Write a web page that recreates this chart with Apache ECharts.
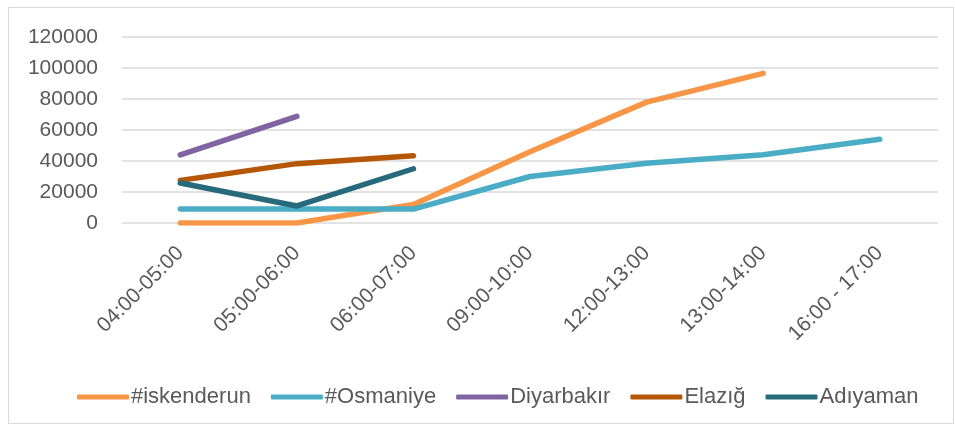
<!DOCTYPE html>
<html>
<head>
<meta charset="utf-8">
<script src="https://cdn.jsdelivr.net/npm/echarts@6/dist/echarts.min.js"></script>
<style>
  html, body { margin: 0; padding: 0; background: #fff; }
  #main { width: 955px; height: 427px; }
</style>
</head>
<body>
<div id="main"></div>
<script>
var categories = ['04:00-05:00', '05:00-06:00', '06:00-07:00', '09:00-10:00', '12:00-13:00', '13:00-14:00', '16:00 - 17:00'];
var iskenderun = [0, 0, 12000, 46000, 78000, 96500, null];
var osmaniye = [9000, 9000, 9000, 30000, 38500, 44000, 54000];
var diyarbakir = [44000, 68800, null, null, null, null, null];
var elazig = [27500, 38300, 43400, null, null, null, null];
var adiyaman = [25800, 11000, 35000, null, null, null, null];
var yTicks = [0, 20000, 40000, 60000, 80000, 100000, 120000];

var seriesDefs = [
    { name: '#iskenderun', data: iskenderun, color: '#F79646' },
    { name: '#Osmaniye', data: osmaniye, color: '#4BACC6' },
    { name: 'Diyarbakır', data: diyarbakir, color: '#8064A2' },
    { name: 'Elazığ', data: elazig, color: '#B65708' },
    { name: 'Adıyaman', data: adiyaman, color: '#276A7C' }
];

var chart = echarts.init(document.getElementById('main'));

var series = [];
for (var i = 0; i < seriesDefs.length; i++) {
    series.push({
        name: seriesDefs[i].name,
        type: 'line',
        data: seriesDefs[i].data,
        symbol: 'none',
        connectNulls: false,
        lineStyle: { width: 5.5, color: seriesDefs[i].color, cap: 'round', join: 'round' },
        itemStyle: { color: seriesDefs[i].color }
    });
}

var option = {
    animation: false,
    backgroundColor: '#fff',
    textStyle: { fontFamily: 'Liberation Sans' },
    graphic: [{
        type: 'rect',
        shape: { x: 8.5, y: 7.5, width: 945, height: 416 },
        style: { fill: 'none', stroke: '#d9d9d9', lineWidth: 1 },
        silent: true
    }],
    grid: { left: 122, right: 17, top: 37, bottom: 204 },
    legend: {
        top: 381,
        left: 72,
        itemWidth: 52,
        itemHeight: 5,
        itemGap: 20,
        icon: 'roundRect',
        textStyle: { color: '#595959', fontSize: 22, padding: [0, 0, 0, -3] },
        data: seriesDefs.map(function(s) { return s.name; })
    },
    xAxis: {
        type: 'category',
        data: categories,
        boundaryGap: true,
        axisLine: { show: false },
        axisTick: { show: false },
        axisLabel: { rotate: 45, interval: 0, color: '#595959', fontSize: 21, margin: 27 }
    },
    yAxis: {
        type: 'value',
        min: yTicks[0],
        max: yTicks[yTicks.length - 1],
        interval: 20000,
        axisLine: { show: false },
        axisTick: { show: false },
        axisLabel: {
            color: '#595959', fontSize: 21, margin: 24,
            formatter: function(v) { return String(v); }
        },
        splitLine: { lineStyle: { color: '#d9d9d9', width: 1.5 } }
    },
    series: series
};

chart.setOption(option);
</script>
</body>
</html>
